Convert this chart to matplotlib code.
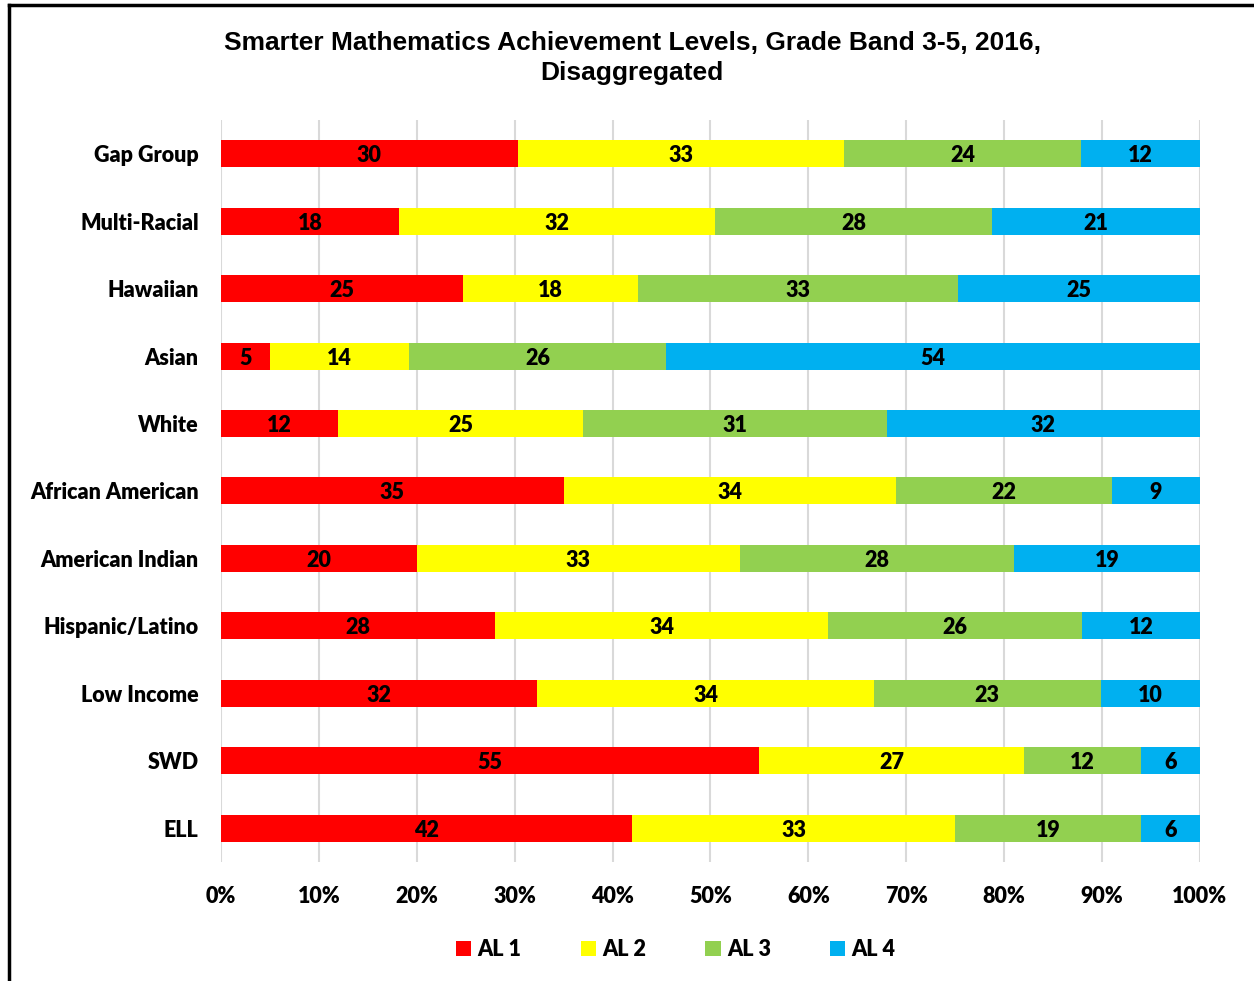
import matplotlib.pyplot as plt
import numpy as np
from matplotlib.patches import Patch
from matplotlib.lines import Line2D

groups = ["Gap Group", "Multi-Racial", "Hawaiian", "Asian", "White",
          "African American", "American Indian", "Hispanic/Latino",
          "Low Income", "SWD", "ELL"]
al1 = [30, 18, 25, 5, 12, 35, 20, 28, 32, 55, 42]
al2 = [33, 32, 18, 14, 25, 34, 33, 34, 34, 27, 33]
al3 = [24, 28, 33, 26, 31, 22, 28, 26, 23, 12, 19]
al4 = [12, 21, 25, 54, 32, 9, 19, 12, 10, 6, 6]
levels = ["AL 1", "AL 2", "AL 3", "AL 4"]
colors = ["#FF0000", "#FFFF00", "#92D050", "#00B0F0"]

LABEL_FONT = ["Lato", "DejaVu Sans"]
TITLE_FONT = ["Liberation Sans", "DejaVu Sans"]
FS = 15.5
WT = "heavy"

# each row is drawn as 100% stacked (rows don't always sum to exactly 100)
vals = np.array([al1, al2, al3, al4], dtype=float)
pct = vals / vals.sum(axis=0) * 100
ypos = np.arange(len(groups))[::-1]

fig = plt.figure(figsize=(12.54, 9.81), dpi=100)
ax = fig.add_axes([0.1762, 0.1213, 0.7807, 0.7564])

left = np.zeros(len(groups))
for i in range(4):
    ax.barh(ypos, pct[i], left=left, height=0.4, color=colors[i], zorder=3)
    for y, l, w, v in zip(ypos, left, pct[i], vals[i]):
        ax.text(l + w / 2, y, f"{int(v)}", ha="center", va="center_baseline",
                fontsize=FS, fontweight=WT, family=LABEL_FONT, zorder=4)
    left += pct[i]

ax.set_xlim(0, 100)
ax.set_ylim(-0.5, 10.5)
ax.set_xticks(np.arange(0, 101, 10))
ax.set_xticklabels([f"{t}%" for t in range(0, 101, 10)])
ax.set_yticks(ypos)
ax.set_yticklabels(groups)
for lab in ax.get_xticklabels() + ax.get_yticklabels():
    lab.set_fontsize(FS)
    lab.set_fontweight(WT)
    lab.set_family(LABEL_FONT)
ax.tick_params(axis="both", length=0)
ax.tick_params(axis="x", pad=17)
ax.tick_params(axis="y", pad=16)
ax.grid(axis="x", color="#D9D9D9", lw=1.5, zorder=0)
for s in ax.spines.values():
    s.set_visible(False)

fig.text(0.504, 0.941, "Smarter Mathematics Achievement Levels, Grade Band 3-5, 2016,\nDisaggregated",
         ha="center", va="center", fontsize=19, fontweight="bold",
         family=TITLE_FONT, linespacing=1.35)

handles = [Patch(facecolor=c, label=l) for c, l in zip(colors, levels)]
fig.legend(handles=handles, loc="center", bbox_to_anchor=(0.539, 0.032), ncol=4,
           frameon=False, handlelength=0.7, handleheight=0.7, handletextpad=0.3,
           columnspacing=2.75, prop={"family": LABEL_FONT, "weight": WT, "size": FS})

# frame lines (top and left visible in original)
fig.add_artist(Line2D([0.0072, 0.0072], [0, 0.995], color="black", lw=2.5,
                      transform=fig.transFigure))
fig.add_artist(Line2D([0.0072, 1.0], [0.995, 0.995], color="black", lw=2.5,
                      transform=fig.transFigure))

fig.savefig("out.png", dpi=100)
